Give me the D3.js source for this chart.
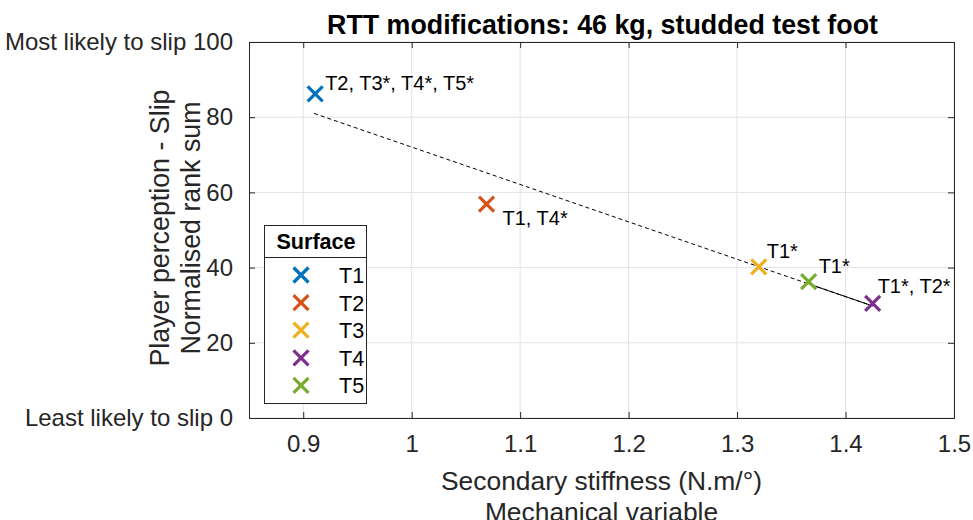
<!DOCTYPE html>
<html><head><meta charset="utf-8">
<script src="https://cdn.jsdelivr.net/npm/d3@7"></script>
<style>body{margin:0;background:#fff}svg{display:block;font-family:"Liberation Sans",Arial,sans-serif}</style>
</head><body><svg id="c" width="973" height="520"></svg>
<script>
const surfaces = ["T1","T2","T3","T4","T5"];
const stiffness = [0.911, 1.069, 1.320, 1.425, 1.366];
const rankSum = [86.2, 56.9, 40.2, 30.5, 36.3];
const pointLabels = ["T2, T3*, T4*, T5*", "T1, T4*", "T1*", "T1*, T2*", "T1*"];
const fitX = [0.91, 1.425];
const fitY = [81.0, 29.8];
const fitSolidX = [1.366, 1.425];
const xTicks = [0.9, 1, 1.1, 1.2, 1.3, 1.4, 1.5];
const yTicks = [0, 20, 40, 60, 80, 100];
const yTickLabels = ["Least likely to slip 0", "20", "40", "60", "80", "Most likely to slip 100"];
const colors = ["#0072BD","#D95319","#EDB120","#7E2F8E","#77AC30"];
const labelOffsets = [[10,-4],[16,21],[8,-9],[5,-10],[10,-9]];

const svg = d3.select("#c");
const L=249, R=954, T=42, B=418;
const x = d3.scaleLinear().domain([0.85,1.5]).range([L,R]);
const y = d3.scaleLinear().domain([0,100]).range([B,T]);
const axisCol="#262626";

// grid
const g = svg.append("g");
g.selectAll(".gx").data(xTicks).join("line").attr("x1",d=>x(d)).attr("x2",d=>x(d)).attr("y1",T).attr("y2",B).attr("stroke","#e3e3e3").attr("stroke-width",1);
g.selectAll(".gy").data(yTicks).join("line").attr("y1",d=>y(d)).attr("y2",d=>y(d)).attr("x1",L).attr("x2",R).attr("stroke","#e3e3e3").attr("stroke-width",1);

// axes
const fs=24;
const xAxis = d3.axisBottom(x).tickValues(xTicks).tickSize(-6).tickPadding(17).tickFormat(d=>String(d));
const xa = svg.append("g").attr("transform",`translate(0,${B})`).call(xAxis);
const xAxisTop = d3.axisTop(x).tickValues(xTicks).tickSize(-6).tickFormat("");
const xt = svg.append("g").attr("transform",`translate(0,${T})`).call(xAxisTop);
const yAxis = d3.axisLeft(y).tickValues(yTicks).tickSize(-6).tickPadding(16).tickFormat((d,i)=>yTickLabels[i]);
const ya = svg.append("g").attr("transform",`translate(${L},0)`).call(yAxis);
const yAxisR = d3.axisRight(y).tickValues(yTicks).tickSize(-6).tickFormat("");
const yr = svg.append("g").attr("transform",`translate(${R},0)`).call(yAxisR);
[xa,xt,ya,yr].forEach(a=>{
  a.selectAll("path").attr("stroke",axisCol).attr("stroke-width",1);
  a.selectAll("line").attr("stroke",axisCol).attr("stroke-width",1);
  a.selectAll("text").attr("fill",axisCol).style("font-size",fs+"px").style("font-family","Liberation Sans, Arial, sans-serif");
});

// fit line
const line = d3.line().x(d=>x(d[0])).y(d=>y(d[1]));
const fitAt = v => fitY[0] + (fitY[1]-fitY[0])*(v-fitX[0])/(fitX[1]-fitX[0]);
svg.append("path").attr("d",line(fitX.map((v,i)=>[v,fitY[i]]))).attr("fill","none").attr("stroke","#000").attr("stroke-width",1).attr("stroke-dasharray","4,3");
svg.append("path").attr("d",line(fitSolidX.map(v=>[v,fitAt(v)]))).attr("fill","none").attr("stroke","#000").attr("stroke-width",1);

// markers
const ms=7.5;
function cross(sel, cx, cy, col){
  sel.append("path").attr("d",`M${cx-ms},${cy-ms}L${cx+ms},${cy+ms}M${cx-ms},${cy+ms}L${cx+ms},${cy-ms}`)
    .attr("stroke",col).attr("stroke-width",3.2).attr("fill","none");
}
surfaces.forEach((s,i)=>{ cross(svg, x(stiffness[i]), y(rankSum[i]), colors[i]); });
svg.selectAll(".pl").data(pointLabels).join("text")
  .attr("x",(d,i)=>x(stiffness[i])+labelOffsets[i][0])
  .attr("y",(d,i)=>y(rankSum[i])+labelOffsets[i][1])
  .attr("font-size",20).attr("fill","#000").text(d=>d);

// title
svg.append("text").attr("x",(L+R)/2+1).attr("y",34).attr("text-anchor","middle").attr("font-weight","bold").attr("font-size",26.8).attr("fill","#000").text("RTT modifications: 46 kg, studded test foot");

// axis labels
svg.append("text").attr("x",(L+R)/2).attr("y",490).attr("text-anchor","middle").attr("font-size",26.4).attr("fill",axisCol).text("Secondary stiffness (N.m/°)");
svg.append("text").attr("x",(L+R)/2).attr("y",521).attr("text-anchor","middle").attr("font-size",26.4).attr("fill",axisCol).text("Mechanical variable");
const cy=(T+B)/2;
svg.append("text").attr("transform",`translate(169,${cy-2}) rotate(-90)`).attr("text-anchor","middle").attr("font-size",26.8).attr("fill",axisCol).text("Player perception - Slip");
svg.append("text").attr("transform",`translate(200,${cy-2}) rotate(-90)`).attr("text-anchor","middle").attr("font-size",26.8).attr("fill",axisCol).text("Normalised rank sum");

// legend
const lg = svg.append("g");
lg.append("rect").attr("x",264.5).attr("y",225.5).attr("width",102).attr("height",178).attr("fill","#fff").attr("stroke","#262626").attr("stroke-width",1);
lg.append("line").attr("x1",264.5).attr("x2",366.5).attr("y1",257.5).attr("y2",257.5).attr("stroke","#262626").attr("stroke-width",1);
lg.append("text").attr("x",316).attr("y",249).attr("text-anchor","middle").attr("font-weight","bold").attr("font-size",21.6).attr("fill","#000").text("Surface");
surfaces.forEach((s,i)=>{
  const ry = 275 + i*27.6;
  cross(lg, 301, ry, colors[i]);
  lg.append("text").attr("x",339).attr("y",ry+8).attr("font-size",21.6).attr("fill","#000").text(s);
});
</script></body></html>
